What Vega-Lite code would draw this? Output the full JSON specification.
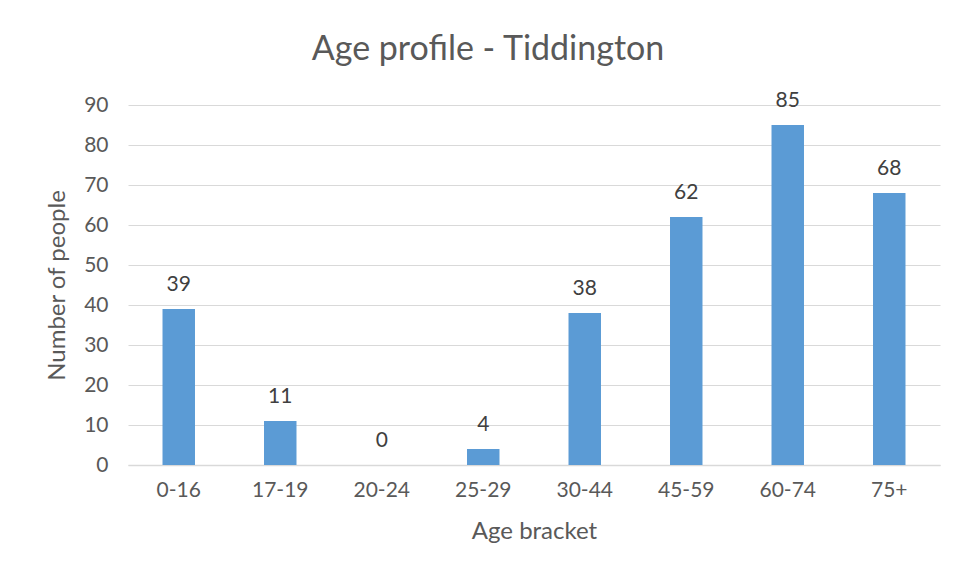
{
  "$schema": "https://vega.github.io/schema/vega-lite/v6.json",
  "width": 812,
  "height": 360,
  "autosize": {"type": "none"},
  "padding": {"left": 128, "top": 105, "right": 16, "bottom": 113},
  "background": "white",
  "title": {
    "text": "Age profile - Tiddington",
    "anchor": "middle",
    "frame": "group",
    "dx": -46,
    "offset": 23,
    "fontSize": 34,
    "font": "Lato",
    "fontWeight": "normal",
    "color": "#595959"
  },
  "data": {
    "values": [
      {"bracket": "0-16", "people": 39},
      {"bracket": "17-19", "people": 11},
      {"bracket": "20-24", "people": 0},
      {"bracket": "25-29", "people": 4},
      {"bracket": "30-44", "people": 38},
      {"bracket": "45-59", "people": 62},
      {"bracket": "60-74", "people": 85},
      {"bracket": "75+", "people": 68}
    ]
  },
  "encoding": {
    "x": {
      "field": "bracket",
      "type": "nominal",
      "sort": null,
      "scale": {"paddingInner": 0.68, "paddingOuter": 0.34},
      "axis": {
        "title": "Age bracket",
        "labelAngle": 0,
        "ticks": false,
        "domain": true,
        "domainColor": "#D9D9D9",
        "domainWidth": 1.5,
        "labelPadding": 14,
        "titlePadding": 19
      }
    },
    "y": {
      "field": "people",
      "type": "quantitative",
      "scale": {"domain": [0, 90]},
      "axis": {
        "title": "Number of people",
        "values": [0, 10, 20, 30, 40, 50, 60, 70, 80, 90],
        "ticks": false,
        "domain": false,
        "labelPadding": 20,
        "titlePadding": 14,
        "gridColor": "#D9D9D9",
        "gridWidth": 1
      }
    }
  },
  "layer": [
    {"mark": {"type": "bar", "color": "#5B9BD5"}},
    {
      "mark": {"type": "text", "baseline": "bottom", "dy": -14, "font": "Lato", "fontSize": 21, "color": "#404040"},
      "encoding": {"text": {"field": "people", "type": "quantitative"}}
    }
  ],
  "config": {
    "view": {"stroke": null},
    "axis": {
      "labelFont": "Lato",
      "labelFontSize": 21,
      "labelColor": "#595959",
      "titleFont": "Lato",
      "titleFontSize": 24,
      "titleFontWeight": "normal",
      "titleColor": "#595959"
    }
  }
}
